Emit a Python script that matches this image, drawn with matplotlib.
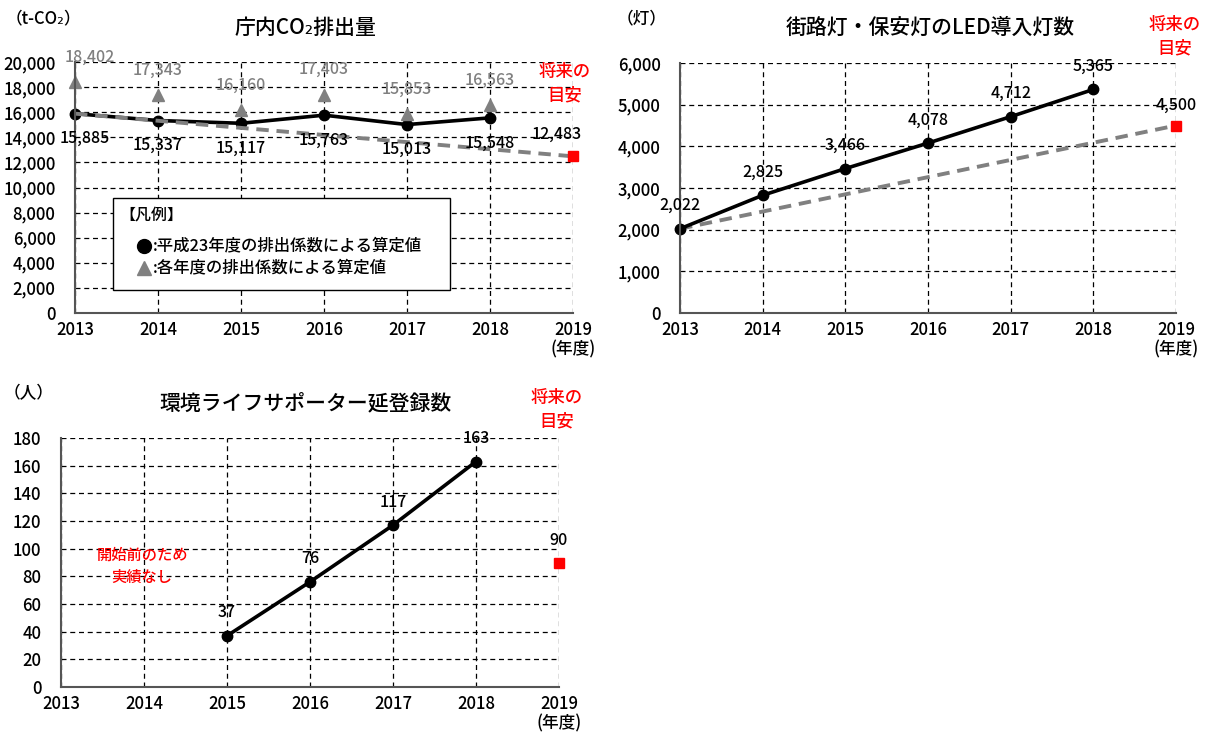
import matplotlib
matplotlib.use("Agg")
import matplotlib.pyplot as plt
from matplotlib.patches import Rectangle
from matplotlib.ticker import FuncFormatter

plt.rcParams['font.family'] = ['Noto Sans CJK JP', 'DejaVu Sans']
plt.rcParams['font.weight'] = 'medium'

# ---------------- data ----------------
years = [2013, 2014, 2015, 2016, 2017, 2018]
x_ticks = [2013, 2014, 2015, 2016, 2017, 2018, 2019]
x_ticklabels = ['2013', '2014', '2015', '2016', '2017', '2018', '2019\n(年度)']
target_year = 2019

co2_base = [15885, 15337, 15117, 15763, 15013, 15548]   # 平成23年度の排出係数
co2_each = [18402, 17343, 16160, 17403, 15853, 16563]   # 各年度の排出係数
co2_target = 12483

led_counts = [2022, 2825, 3466, 4078, 4712, 5365]
led_target = 4500

sup_years = [2015, 2016, 2017, 2018]
sup_counts = [37, 76, 117, 163]
sup_target = 90

titles = ['庁内CO₂排出量', '街路灯・保安灯のLED導入灯数', '環境ライフサポーター延登録数']
units = ['（t-CO₂）', '（灯）', '（人）']

# ---------------- layout ----------------
W, H = 1211, 740
fig = plt.figure(figsize=(W / 100, H / 100), dpi=100)


def ax_rect(x0, x1, y0, y1):
    return [x0 / W, 1 - y1 / H, (x1 - x0) / W, (y1 - y0) / H]


def ftext(x, y, s, **kw):
    fig.text(x / W, 1 - y / H, s, **kw)


GRAY = '#808080'
RED = '#ff0000'
TICK_FS = 12
LAB_FS = 11.5


def style_axes(ax, ymax, ystep, fmt):
    ax.set_xlim(2013, 2019)
    ax.set_ylim(0, ymax)
    ax.set_xticks(x_ticks)
    ax.set_xticklabels(x_ticklabels, fontsize=TICK_FS, linespacing=1.05)
    ax.set_yticks(range(0, ymax + 1, ystep))
    ax.yaxis.set_major_formatter(FuncFormatter(fmt))
    ax.tick_params(axis='y', length=0, pad=14, labelsize=TICK_FS)
    ax.tick_params(axis='x', length=0, pad=6, labelsize=TICK_FS)
    ax.grid(True, color='black', linestyle=(0, (4, 3)), linewidth=0.9)
    ax.set_axisbelow(True)
    for s in ['top', 'right']:
        ax.spines[s].set_visible(False)
    for s in ['left', 'bottom']:
        ax.spines[s].set_color('#555555')
        ax.spines[s].set_linewidth(1.5)
        ax.spines[s].set_zorder(5)


def label(ax, x, y, s, dx=0, dy=23, color='black'):
    ax.annotate(s, (x, y), xytext=(dx, dy), textcoords='offset pixels',
                ha='center', va='center', fontsize=LAB_FS, color=color,
                annotation_clip=False, zorder=10)


comma = lambda v, p: f'{int(v):,}'
plain = lambda v, p: f'{int(v)}'

# ---------------- chart 1 ----------------
ax1 = fig.add_axes(ax_rect(75, 573, 62, 313))
style_axes(ax1, 20000, 2000, comma)
ax1.plot(years, co2_base, color='black', lw=2.6, marker='o', ms=7.5,
         zorder=4, clip_on=False)
ax1.plot([years[0], target_year], [co2_base[0], co2_target], color=GRAY,
         lw=2.8, linestyle=(0, (3.2, 2)), zorder=5, clip_on=False)
ax1.plot(years, co2_each, linestyle='none', marker='^', ms=8.5, color=GRAY,
         zorder=4, clip_on=False)
ax1.plot([target_year], [co2_target], linestyle='none', marker='s', ms=7,
         color=RED, zorder=6, clip_on=False)
for i, (x, v) in enumerate(zip(years, co2_each)):
    label(ax1, x, v, f'{v:,}', dx=15 if i == 0 else 0, dy=25, color=GRAY)
for i, (x, v) in enumerate(zip(years, co2_base)):
    label(ax1, x, v, f'{v:,}', dx=10 if i == 0 else 0, dy=-25)
label(ax1, target_year, co2_target, f'{co2_target:,}', dx=-16, dy=22)

# legend box
lx0, lx1, ly0, ly1 = 113, 450, 198, 290


def axf(x, y):
    return ((x - 75) / (573 - 75), (313 - y) / (313 - 62))


bx0, by0 = axf(lx0, ly1)
bx1, by1 = axf(lx1, ly0)
ax1.add_patch(Rectangle((bx0, by0), bx1 - bx0, by1 - by0, transform=ax1.transAxes,
                        facecolor='white', edgecolor='black', lw=1.0, zorder=7))
tx, ty = axf(119, 215)
ax1.text(tx, ty, '【凡例】', transform=ax1.transAxes, fontsize=11.5,
         va='center', ha='left', zorder=8)
mx, my1 = axf(144, 246)
_, my2 = axf(144, 268)
ax1.plot([mx], [my1], marker='o', ms=10, color='black', transform=ax1.transAxes,
         zorder=8, clip_on=False)
ax1.plot([mx], [my2], marker='^', ms=10, color=GRAY, transform=ax1.transAxes,
         zorder=8, clip_on=False)
tx2, _ = axf(153, 0)
ax1.text(tx2, my1, ':平成23年度の排出係数による算定値', transform=ax1.transAxes,
         fontsize=11.8, va='center', ha='left', zorder=8)
ax1.text(tx2, my2, ':各年度の排出係数による算定値', transform=ax1.transAxes,
         fontsize=11.8, va='center', ha='left', zorder=8)

ftext(305, 28, titles[0], fontsize=15, ha='center', va='center')
ftext(6, 18, units[0], fontsize=12, ha='left', va='center')
ftext(565, 72, '将来の', fontsize=12.5, color=RED, ha='center', va='center')
ftext(565, 95, '目安', fontsize=12.5, color=RED, ha='center', va='center')

# ---------------- chart 2 ----------------
ax2 = fig.add_axes(ax_rect(680, 1176, 63, 313))
style_axes(ax2, 6000, 1000, comma)
ax2.plot(years, led_counts, color='black', lw=2.6, marker='o', ms=7.5,
         zorder=4, clip_on=False)
ax2.plot([years[0], target_year], [led_counts[0], led_target], color=GRAY,
         lw=2.8, linestyle=(0, (3.2, 2)), zorder=3, clip_on=False)
ax2.plot([target_year], [led_target], linestyle='none', marker='s', ms=7,
         color=RED, zorder=6, clip_on=False)
for x, v in zip(years, led_counts):
    label(ax2, x, v, f'{v:,}', dy=23)
label(ax2, target_year, led_target, f'{led_target:,}', dy=20)

ftext(930, 28, titles[1], fontsize=15, ha='center', va='center')
ftext(617, 18, units[1], fontsize=12, ha='left', va='center')
ftext(1175, 25, '将来の', fontsize=12.5, color=RED, ha='center', va='center')
ftext(1175, 48, '目安', fontsize=12.5, color=RED, ha='center', va='center')

# ---------------- chart 3 ----------------
ax3 = fig.add_axes(ax_rect(61, 559, 438, 687))
style_axes(ax3, 180, 20, plain)
ax3.plot(sup_years, sup_counts, color='black', lw=2.6, marker='o', ms=7.5,
         zorder=4, clip_on=False)
ax3.plot([target_year], [sup_target], linestyle='none', marker='s', ms=7,
         color=RED, zorder=6, clip_on=False)
for x, v in zip(sup_years, sup_counts):
    label(ax3, x, v, f'{v}', dy=23)
label(ax3, target_year, sup_target, f'{sup_target}', dy=22)

ftext(305, 403, titles[2], fontsize=15, ha='center', va='center')
ftext(4, 393, units[2], fontsize=12, ha='left', va='center')
ftext(557, 398, '将来の', fontsize=12.5, color=RED, ha='center', va='center')
ftext(557, 421, '目安', fontsize=12.5, color=RED, ha='center', va='center')
ftext(142, 555, '開始前のため', fontsize=11, color=RED, ha='center', va='center')
ftext(142, 577, '実績なし', fontsize=11, color=RED, ha='center', va='center')

fig.savefig('out.png', dpi=100, facecolor='white')
